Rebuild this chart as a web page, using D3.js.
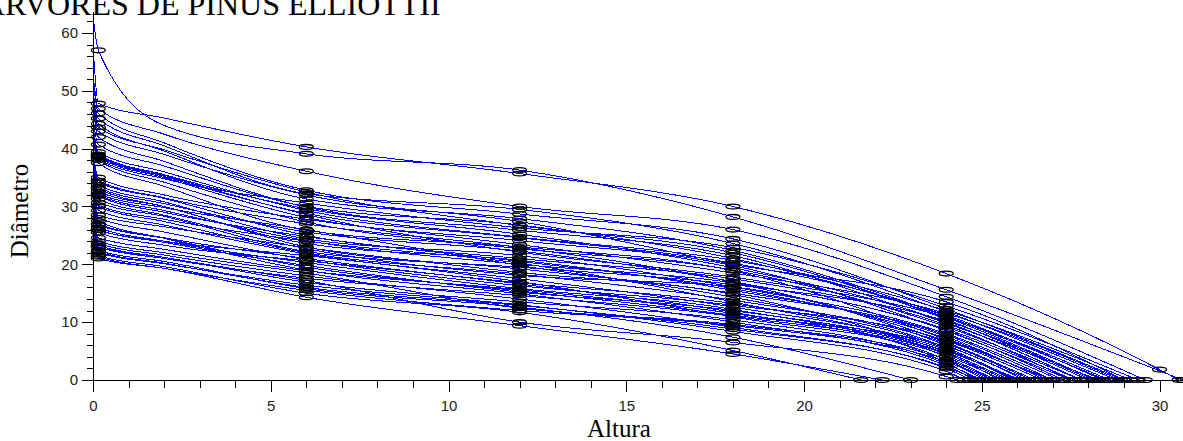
<!DOCTYPE html>
<html>
<head>
<meta charset="utf-8">
<script src="https://cdn.jsdelivr.net/npm/d3@7"></script>
<style>
  body { margin: 0; background: #fff; }
  svg { display: block; }
</style>
</head>
<body>
<div id="chart"></div>
<script>
// Heights (m) where each stem was measured
var baseHeight = 0.15;
var knotHeights = [2, 6, 12, 18, 24, 30];

// Diameters (cm) for each tree
var buttTop = [63, 58, 53, 52, 50, 49, 48.5, 47, 44, 43, 42.5, 43.5, 42, 38.5, 38, 37, 36, 35, 34, 33, 32, 30, 29.5, 29, 30.5, 26.5, 25.5, 25, 24, 23.5, 26, 38, 36.5, 34.5, 31, 30, 43, 39, 24.5, 27, 48, 43.5,
    35, 33.5, 26, 24.5, 29, 37, 28.5, 43, 24, 36, 45, 27.5];
var dBase = [57.0, 47.8, 46.9, 46.1, 45.2, 44.3, 43.7, 42.0, 39.4, 38.5, 38.0, 38.8, 37.5, 34.5, 33.7, 33.1, 32.2, 31.3, 30.2, 29.3, 28.5, 27.0, 26.4, 25.9, 27.5, 23.6, 23.0, 22.4, 21.5, 21.0, 23.3, 34.2, 32.6, 30.7, 28.0, 26.8, 38.2, 35.0, 22.0, 24.0, 43.0, 39.0,
    31.8, 30.0, 23.0, 22.2, 26.0, 33.3, 25.5, 38.7, 21.3, 32.0, 40.7, 24.6];
var d2 = [44.0, 45.3, 42.5, 41.0, 40.5, 39.6, 39.8, 37.8, 36.0, 35.0, 34.2, 35.4, 33.5, 31.5, 30.8, 30.0, 29.8, 28.5, 27.8, 26.8, 26.5, 24.6, 24.0, 24.0, 24.5, 21.6, 21.2, 20.5, 19.6, 19.3, 21.2, 31.4, 30.0, 28.3, 25.6, 24.5, 34.8, 32.0, 20.1, 22.0, 39.0, 35.5,
    29.0, 27.4, 21.0, 20.2, 23.8, 30.5, 23.3, 35.2, 19.3, 29.3, 37.0, 22.6];
var d6 = [39.1, 40.3, 36.1, 32.8, 32.2, 31.3, 32.5, 29.9, 29.3, 28.1, 27.3, 28.6, 25.9, 27.0, 24.4, 23.6, 26.0, 22.7, 24.0, 21.8, 22.9, 21.0, 20.3, 21.5, 19.0, 18.0, 16.9, 15.8, 15.0, 14.3, 17.2, 25.0, 23.0, 22.2, 20.8, 19.5, 30.6, 27.8, 16.4, 18.5, 32.0, 29.6,
    24.8, 22.0, 17.6, 16.0, 19.8, 25.6, 20.6, 28.8, 15.5, 24.1, 30.0, 18.9];
var d12 = [36.3, 35.7, 30.0, 28.7, 29.5, 27.9, 26.7, 25.9, 24.7, 24.1, 22.7, 22.1, 23.0, 22.9, 21.5, 20.7, 19.8, 18.1, 20.2, 17.5, 18.6, 16.6, 15.8, 17.0, 14.9, 14.0, 13.5, 12.6, 11.7, 9.4, 10.0, 21.0, 19.2, 19.5, 16.3, 15.4, 26.3, 23.4, 13.0, 12.4, 27.4, 25.2,
    20.5, 18.3, 14.6, 12.9, 15.2, 22.3, 16.8, 24.6, 12.0, 20.0, 26.8, 15.6];
var d18 = [28.2, 30.0, 26.0, 24.4, 23.6, 22.4, 22.0, 21.5, 20.7, 19.8, 19.0, 17.8, 18.9, 16.9, 16.1, 15.5, 14.3, 16.1, 13.5, 12.6, 14.8, 11.7, 12.2, 10.9, 10.0, 9.1, 10.4, 7.4, 5.1, 4.5, 6.5, 17.5, 15.0, 16.5, 12.9, 11.2, 22.9, 18.5, 8.4, 9.6, 20.0, 19.4,
    15.8, 13.8, 11.0, 8.8, 12.0, 17.0, 13.2, 20.2, 9.4, 16.8, 21.0, 11.5];
var d24 = [15.6, 18.4, 14.4, 12.3, 11.8, 11.0, 10.5, 9.8, 12.0, 8.5, 9.2, 10.8, 7.0, 6.5, 8.0, 7.5, 5.6, 6.0, 4.8, 5.2, 4.0, 3.5, 3.0, 4.2, 2.5, 2.0, 2.8, null, null, null, 0.6, 9.5, 7.8, 10.2, 6.8, 5.8, 12.8, 11.5, 1.5, 3.6, 13.5, 10.0,
    7.2, 6.3, 4.5, 2.2, 5.0, 8.8, 5.4, 11.2, 3.2, 8.6, 10.8, 4.6];
var d30 = [null, 1.8];
var totalHeight = [30.66, 30.55, 29.6, 29.0, 28.8, 28.5, 28.0, 28.3, 29.2, 27.5, 27.8, 28.6, 27.0, 26.5, 27.2, 26.8, 26.0, 26.3, 25.8, 26.0, 25.4, 25.2, 24.9, 25.6, 24.8, 24.7, 25.0, 23.0, 21.6, 22.2, 24.3, 27.5, 27.0, 28.1, 26.7, 26.2, 29.4, 28.9, 24.5, 25.3, 29.0, 27.8,
    26.9, 26.4, 25.7, 24.9, 26.1, 27.6, 25.9, 28.4, 25.1, 27.3, 28.2, 25.5];

// Axis ticks
var xMajorTicks = [0, 5, 10, 15, 20, 25, 30];
var xMinorTicks = d3.range(0, 31, 1);
var yMajorTicks = [0, 10, 20, 30, 40, 50, 60];
var yMinorTicks = d3.range(0, 64, 2);

var properties = { width: 1183, height: 441 };

var svg = d3.select("#chart")
    .append("svg")
    .attr("width", properties.width)
    .attr("height", properties.height);

var x = d3.scaleLinear().domain([0, 30.66]).range([93, 1183]);
var y = d3.scaleLinear().domain([0, 63.8]).range([380, 11]);

// Building one profile per tree
var trees = dBase.map(function (b, i) {
    var cols = [d2[i], d6[i], d12[i], d18[i], d24[i], d30[i]];
    var pts = [[0, buttTop[i]], [baseHeight, b]];
    var marks = [[baseHeight, b]];
    knotHeights.forEach(function (h, k) {
        var v = cols[k];
        if (v == null || h >= totalHeight[i]) return;
        pts.push([h, v]);
        if (h !== 2) marks.push([h, v]);
    });
    pts.push([totalHeight[i], 0]);
    marks.push([totalHeight[i], 0]);
    return { pts: pts, marks: marks };
});

// Title, partly cut by the frame
svg.append("text")
    .attr("x", -18)
    .attr("y", 15)
    .style("font-family", "'Liberation Serif', 'Times New Roman', serif")
    .style("font-size", "32px")
    .text("ÁRVORES DE PINUS ELLIOTTII");

var line = d3.line()
    .x(function (d) { return x(d[0]); })
    .y(function (d) { return y(d[1]); })
    .curve(d3.curveMonotoneX);

svg.append("g").selectAll("path")
    .data(trees)
    .enter()
    .append("path")
    .attr("d", function (d) { return line(d.pts); })
    .attr("fill", "none")
    .attr("stroke", "#0000ff")
    .attr("stroke-width", 1)
    .attr("shape-rendering", "crispEdges");

// Axes
function styleAxis(g) {
    g.selectAll("path, line").attr("stroke", "#000").attr("shape-rendering", "crispEdges");
    g.selectAll("text")
        .attr("fill", "#222")
        .style("font-family", "'Liberation Sans', Arial, sans-serif")
        .style("font-size", "15px");
}

svg.append("g")
    .attr("transform", "translate(0,380)")
    .call(d3.axisBottom(x).tickValues(xMinorTicks).tickSize(8).tickSizeOuter(0).tickFormat(""))
    .call(styleAxis);
svg.append("g")
    .attr("transform", "translate(0,380)")
    .call(d3.axisBottom(x).tickValues(xMajorTicks).tickSize(12).tickSizeOuter(0).tickPadding(8).tickFormat(d3.format("d")))
    .call(styleAxis);

svg.append("g")
    .attr("transform", "translate(93,0)")
    .call(d3.axisLeft(y).tickValues(yMinorTicks).tickSize(6).tickSizeOuter(0).tickFormat(""))
    .call(styleAxis);
svg.append("g")
    .attr("transform", "translate(93,0)")
    .call(d3.axisLeft(y).tickValues(yMajorTicks).tickSize(11).tickSizeOuter(0).tickPadding(4).tickFormat(d3.format("d")))
    .call(styleAxis);

// Measurement markers
svg.append("g").selectAll("g")
    .data(trees)
    .enter()
    .append("g")
    .selectAll("ellipse")
    .data(function (d) { return d.marks; })
    .enter()
    .append("ellipse")
    .attr("cx", function (d) { return x(d[0]); })
    .attr("cy", function (d) { return y(d[1]); })
    .attr("rx", 7)
    .attr("ry", 2.4)
    .attr("fill", "none")
    .attr("stroke", "#000")
    .attr("stroke-width", 1.3);

// Axis titles
svg.append("text")
    .attr("x", 619)
    .attr("y", 437)
    .attr("text-anchor", "middle")
    .style("font-family", "'Liberation Serif', 'Times New Roman', serif")
    .style("font-size", "25px")
    .text("Altura");

svg.append("text")
    .attr("transform", "translate(28,211) rotate(-90)")
    .attr("text-anchor", "middle")
    .style("font-family", "'Liberation Serif', 'Times New Roman', serif")
    .style("font-size", "25px")
    .text("Diâmetro");
</script>
</body>
</html>
